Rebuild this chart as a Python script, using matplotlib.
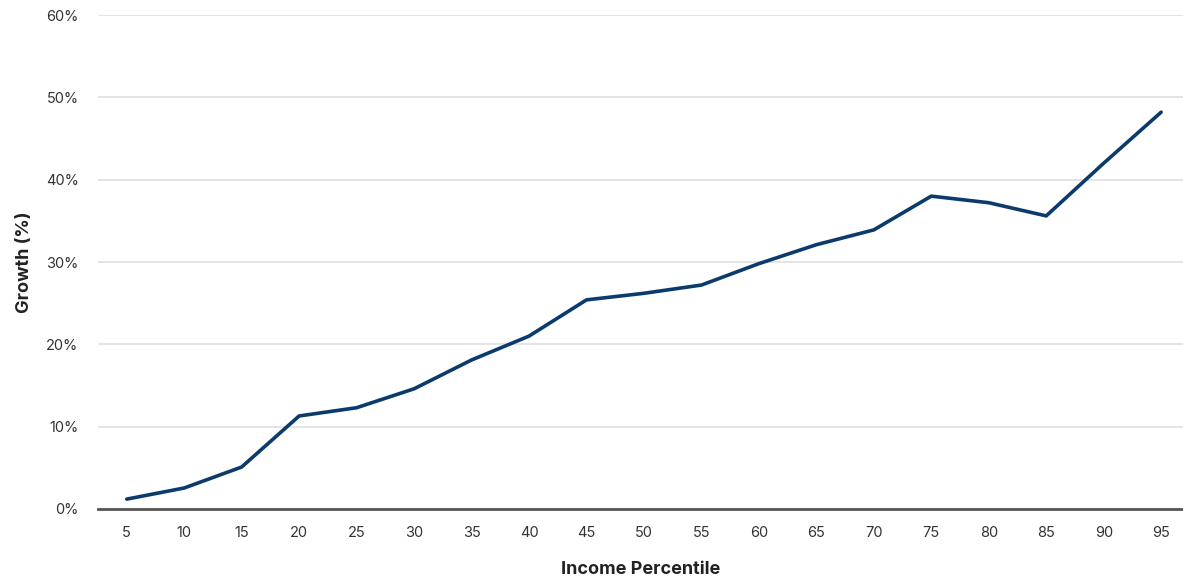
import matplotlib
matplotlib.use("Agg")
import matplotlib.pyplot as plt
from matplotlib.ticker import FuncFormatter

plt.rcParams['font.family'] = ['Inter', 'DejaVu Sans']

percentiles = [5, 10, 15, 20, 25, 30, 35, 40, 45, 50, 55, 60, 65, 70, 75, 80, 85, 90, 95]
growth = [1.2, 2.55, 5.1, 11.3, 12.3, 14.6, 18.1, 21.0, 25.4, 26.2, 27.2, 29.8, 32.1, 33.9,
          38.0, 37.2, 35.6, 42.0, 48.2]
y_ticks = [0, 10, 20, 30, 40, 50, 60]

fig = plt.figure(figsize=(11.83, 5.8), dpi=100)
ax = fig.add_axes([98 / 1183, 1 - 509 / 580, 1 - 98 / 1183, (509 - 15) / 580])

ax.plot(percentiles, growth, color='#0b3b6c', linewidth=2.6, solid_capstyle='round', zorder=3)

ax.set_xlim(2.5, 96.9)
ax.set_ylim(0, 60)
ax.set_xticks(percentiles)
ax.set_yticks(y_ticks)
ax.yaxis.set_major_formatter(FuncFormatter(lambda v, p: f"{v:.0f}%"))

ax.grid(axis='y', color='#dddddd', linewidth=1.1)
ax.set_axisbelow(True)
for s in ['top', 'right', 'left']:
    ax.spines[s].set_visible(False)
ax.spines['bottom'].set_color('#555555')
ax.spines['bottom'].set_linewidth(2)
ax.spines['bottom'].set_zorder(4)

ax.tick_params(axis='both', length=0, labelsize=10.5, colors='#333333')
ax.tick_params(axis='x', pad=12)
ax.tick_params(axis='y', pad=14)

ax.set_xlabel('Income Percentile', fontsize=13, fontweight='bold', color='#222222', labelpad=15)
ax.set_ylabel('Growth (%)', fontsize=13, fontweight='bold', color='#222222', labelpad=9)

fig.savefig('out.png', dpi=100)
